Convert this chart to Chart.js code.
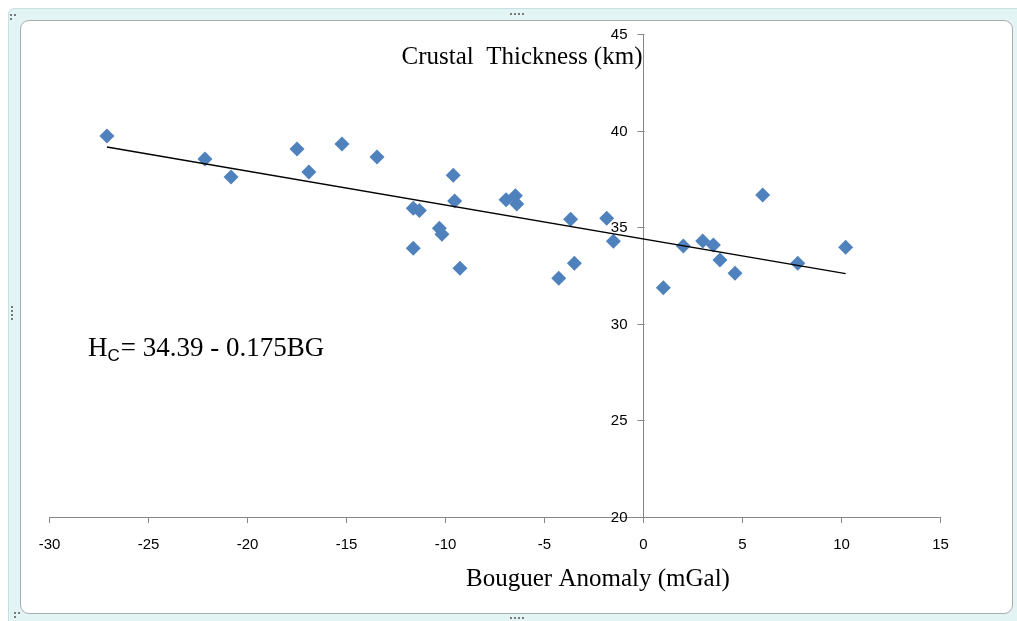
<!DOCTYPE html>
<html>
<head>
<meta charset="utf-8">
<script src="https://cdn.jsdelivr.net/npm/chart.js@4.4.1/dist/chart.umd.min.js"></script>
<style>
  html, body { margin: 0; padding: 0; background: #ffffff; }
  #wrap { position: relative; width: 1017px; height: 621px; overflow: hidden; background: #fff; }
  #outer { position: absolute; left: 8px; top: 8px; width: 1030px; height: 630px;
           background: #e3f4f5; border: 1px solid #c6e0e3; border-radius: 6px; box-sizing: border-box; }
  #inner { position: absolute; left: 20px; top: 20px; width: 993px; height: 594px;
           background: #fff; border: 1px solid #a8acae; border-radius: 9px; box-sizing: border-box; }
  .dot { position: absolute; width: 2px; height: 2px; background: #7a7a7a; }
  canvas { position: absolute; left: 0; top: 0; }
</style>
</head>
<body>
<div id="wrap">
  <div id="outer"></div>
  <div id="inner"></div>
  <div class="dot" style="left:10px;top:14px"></div>
  <div class="dot" style="left:14px;top:14px"></div>
  <div class="dot" style="left:10px;top:18px"></div>
  <div class="dot" style="left:510px;top:13px"></div>
  <div class="dot" style="left:514px;top:13px"></div>
  <div class="dot" style="left:518px;top:13px"></div>
  <div class="dot" style="left:522px;top:13px"></div>
  <div class="dot" style="left:11px;top:306px"></div>
  <div class="dot" style="left:11px;top:310px"></div>
  <div class="dot" style="left:11px;top:314px"></div>
  <div class="dot" style="left:11px;top:318px"></div>
  <div class="dot" style="left:14px;top:612px"></div>
  <div class="dot" style="left:18px;top:612px"></div>
  <div class="dot" style="left:14px;top:616px"></div>
  <div class="dot" style="left:510px;top:617px"></div>
  <div class="dot" style="left:514px;top:617px"></div>
  <div class="dot" style="left:518px;top:617px"></div>
  <div class="dot" style="left:522px;top:617px"></div>
  <canvas id="c" width="1017" height="621"></canvas>
</div>
<script>
// ---- data ----
const bouguer = [-27.1, -22.15, -20.83, -17.5, -16.9, -15.23, -13.46, -9.61, -11.63, -11.32,
                 -9.54, -6.94, -6.47, -6.4, -10.31, -10.18, -11.63, -9.27, -3.68, -4.28,
                 -3.49, -1.86, -1.52, 1.0, 2.01, 2.99, 3.53, 3.86, 4.62, 6.02, 7.79, 10.21];
const thickness = [39.72, 38.53, 37.60, 39.05, 37.86, 39.31, 38.63, 37.69, 35.98, 35.87,
                   36.36, 36.42, 36.63, 36.20, 34.94, 34.63, 33.91, 32.87, 35.41, 32.36,
                   33.13, 35.46, 34.27, 31.87, 34.03, 34.29, 34.08, 33.30, 32.61, 36.67, 33.13, 33.96];
const trendX = [-27.1, 10.21];
const trendY = [39.15, 32.60];
const xTicks = [-30, -25, -20, -15, -10, -5, 0, 5, 10, 15];
const yTicks = [20, 25, 30, 35, 40, 45];
const titleText = "Crustal  Thickness (km)";
const xTitleText = "Bouguer Anomaly (mGal)";
const eqMain = "H";
const eqSub = "C";
const eqRest = "= 34.39 - 0.175BG";

const points = bouguer.map((x, i) => ({ x: x, y: thickness[i] }));
const trend = trendX.map((x, i) => ({ x: x, y: trendY[i] }));

const SERIF = '"Liberation Serif", "Times New Roman", serif';
const SANS = '"Liberation Sans Narrow", "Liberation Sans", Arial, sans-serif';

const textPlugin = {
  id: 'texts',
  afterDraw(chart) {
    const ctx = chart.ctx;
    const xs = chart.scales.x, ys = chart.scales.y;
    const px0 = Math.round(xs.getPixelForValue(0)) + 0.5;
    ctx.save();
    // y ticks and labels at the crossing axis
    ctx.strokeStyle = '#868686';
    ctx.lineWidth = 1;
    ctx.fillStyle = '#000';
    ctx.font = '15px ' + SANS;
    ctx.textAlign = 'right';
    ctx.textBaseline = 'middle';
    yTicks.forEach(v => {
      const py = Math.round(ys.getPixelForValue(v)) + 0.5;
      ctx.beginPath();
      ctx.moveTo(px0 - 7, py);
      ctx.lineTo(px0, py);
      ctx.stroke();
      ctx.fillText(String(v), px0 - 17, py);
    });
    // titles
    ctx.font = '25px ' + SERIF;
    ctx.textAlign = 'center';
    ctx.fillText(titleText, 522, ys.top + 23);
    ctx.fillText(xTitleText, 598, ys.bottom + 62);
    // equation
    ctx.textAlign = 'left';
    let ex = 88, ey = 349;
    ctx.font = '27px ' + SERIF;
    ctx.fillText(eqMain, ex, ey);
    ex += ctx.measureText(eqMain).width;
    ctx.font = '17px ' + SANS;
    ctx.fillText(eqSub, ex, ey + 7);
    ex += ctx.measureText(eqSub).width + 1;
    ctx.font = '27px ' + SERIF;
    ctx.fillText(eqRest, ex, ey);
    ctx.restore();
  }
};

new Chart(document.getElementById('c'), {
  type: 'scatter',
  data: {
    datasets: [
      {
        label: 'data',
        data: points,
        pointStyle: 'rectRot',
        pointRadius: 7.5,
        pointHoverRadius: 7.5,
        backgroundColor: '#4F81BD',
        borderColor: '#4F81BD',
        borderWidth: 0,
        order: 2
      },
      {
        label: 'trend',
        type: 'line',
        data: trend,
        showLine: true,
        borderColor: '#000000',
        borderWidth: 1.4,
        pointRadius: 0,
        fill: false,
        order: 1
      }
    ]
  },
  options: {
    responsive: false,
    animation: false,
    events: [],
    layout: { padding: { left: 49.5, right: 76.5, top: 34, bottom: 0 } },
    plugins: { legend: { display: false }, tooltip: { enabled: false }, title: { display: false } },
    scales: {
      x: {
        type: 'linear',
        position: 'bottom',
        min: -30, max: 15,
        afterBuildTicks: (s) => { s.ticks = xTicks.map(v => ({ value: v })); },
        afterFit: (s) => { s.height = 104; },
        grid: { drawOnChartArea: false, drawTicks: true, tickLength: 6, color: '#868686' },
        border: { color: '#868686', width: 1 },
        ticks: { color: '#000', padding: 13, font: { family: SANS, size: 15 }, maxRotation: 0 }
      },
      y: {
        type: 'linear',
        position: { x: 0 },
        min: 20, max: 45,
        afterBuildTicks: (s) => { s.ticks = yTicks.map(v => ({ value: v })); },
        grid: { drawOnChartArea: false, drawTicks: false },
        border: { color: '#868686', width: 1 },
        ticks: { display: false }
      }
    }
  },
  plugins: [textPlugin]
});
</script>
</body>
</html>
